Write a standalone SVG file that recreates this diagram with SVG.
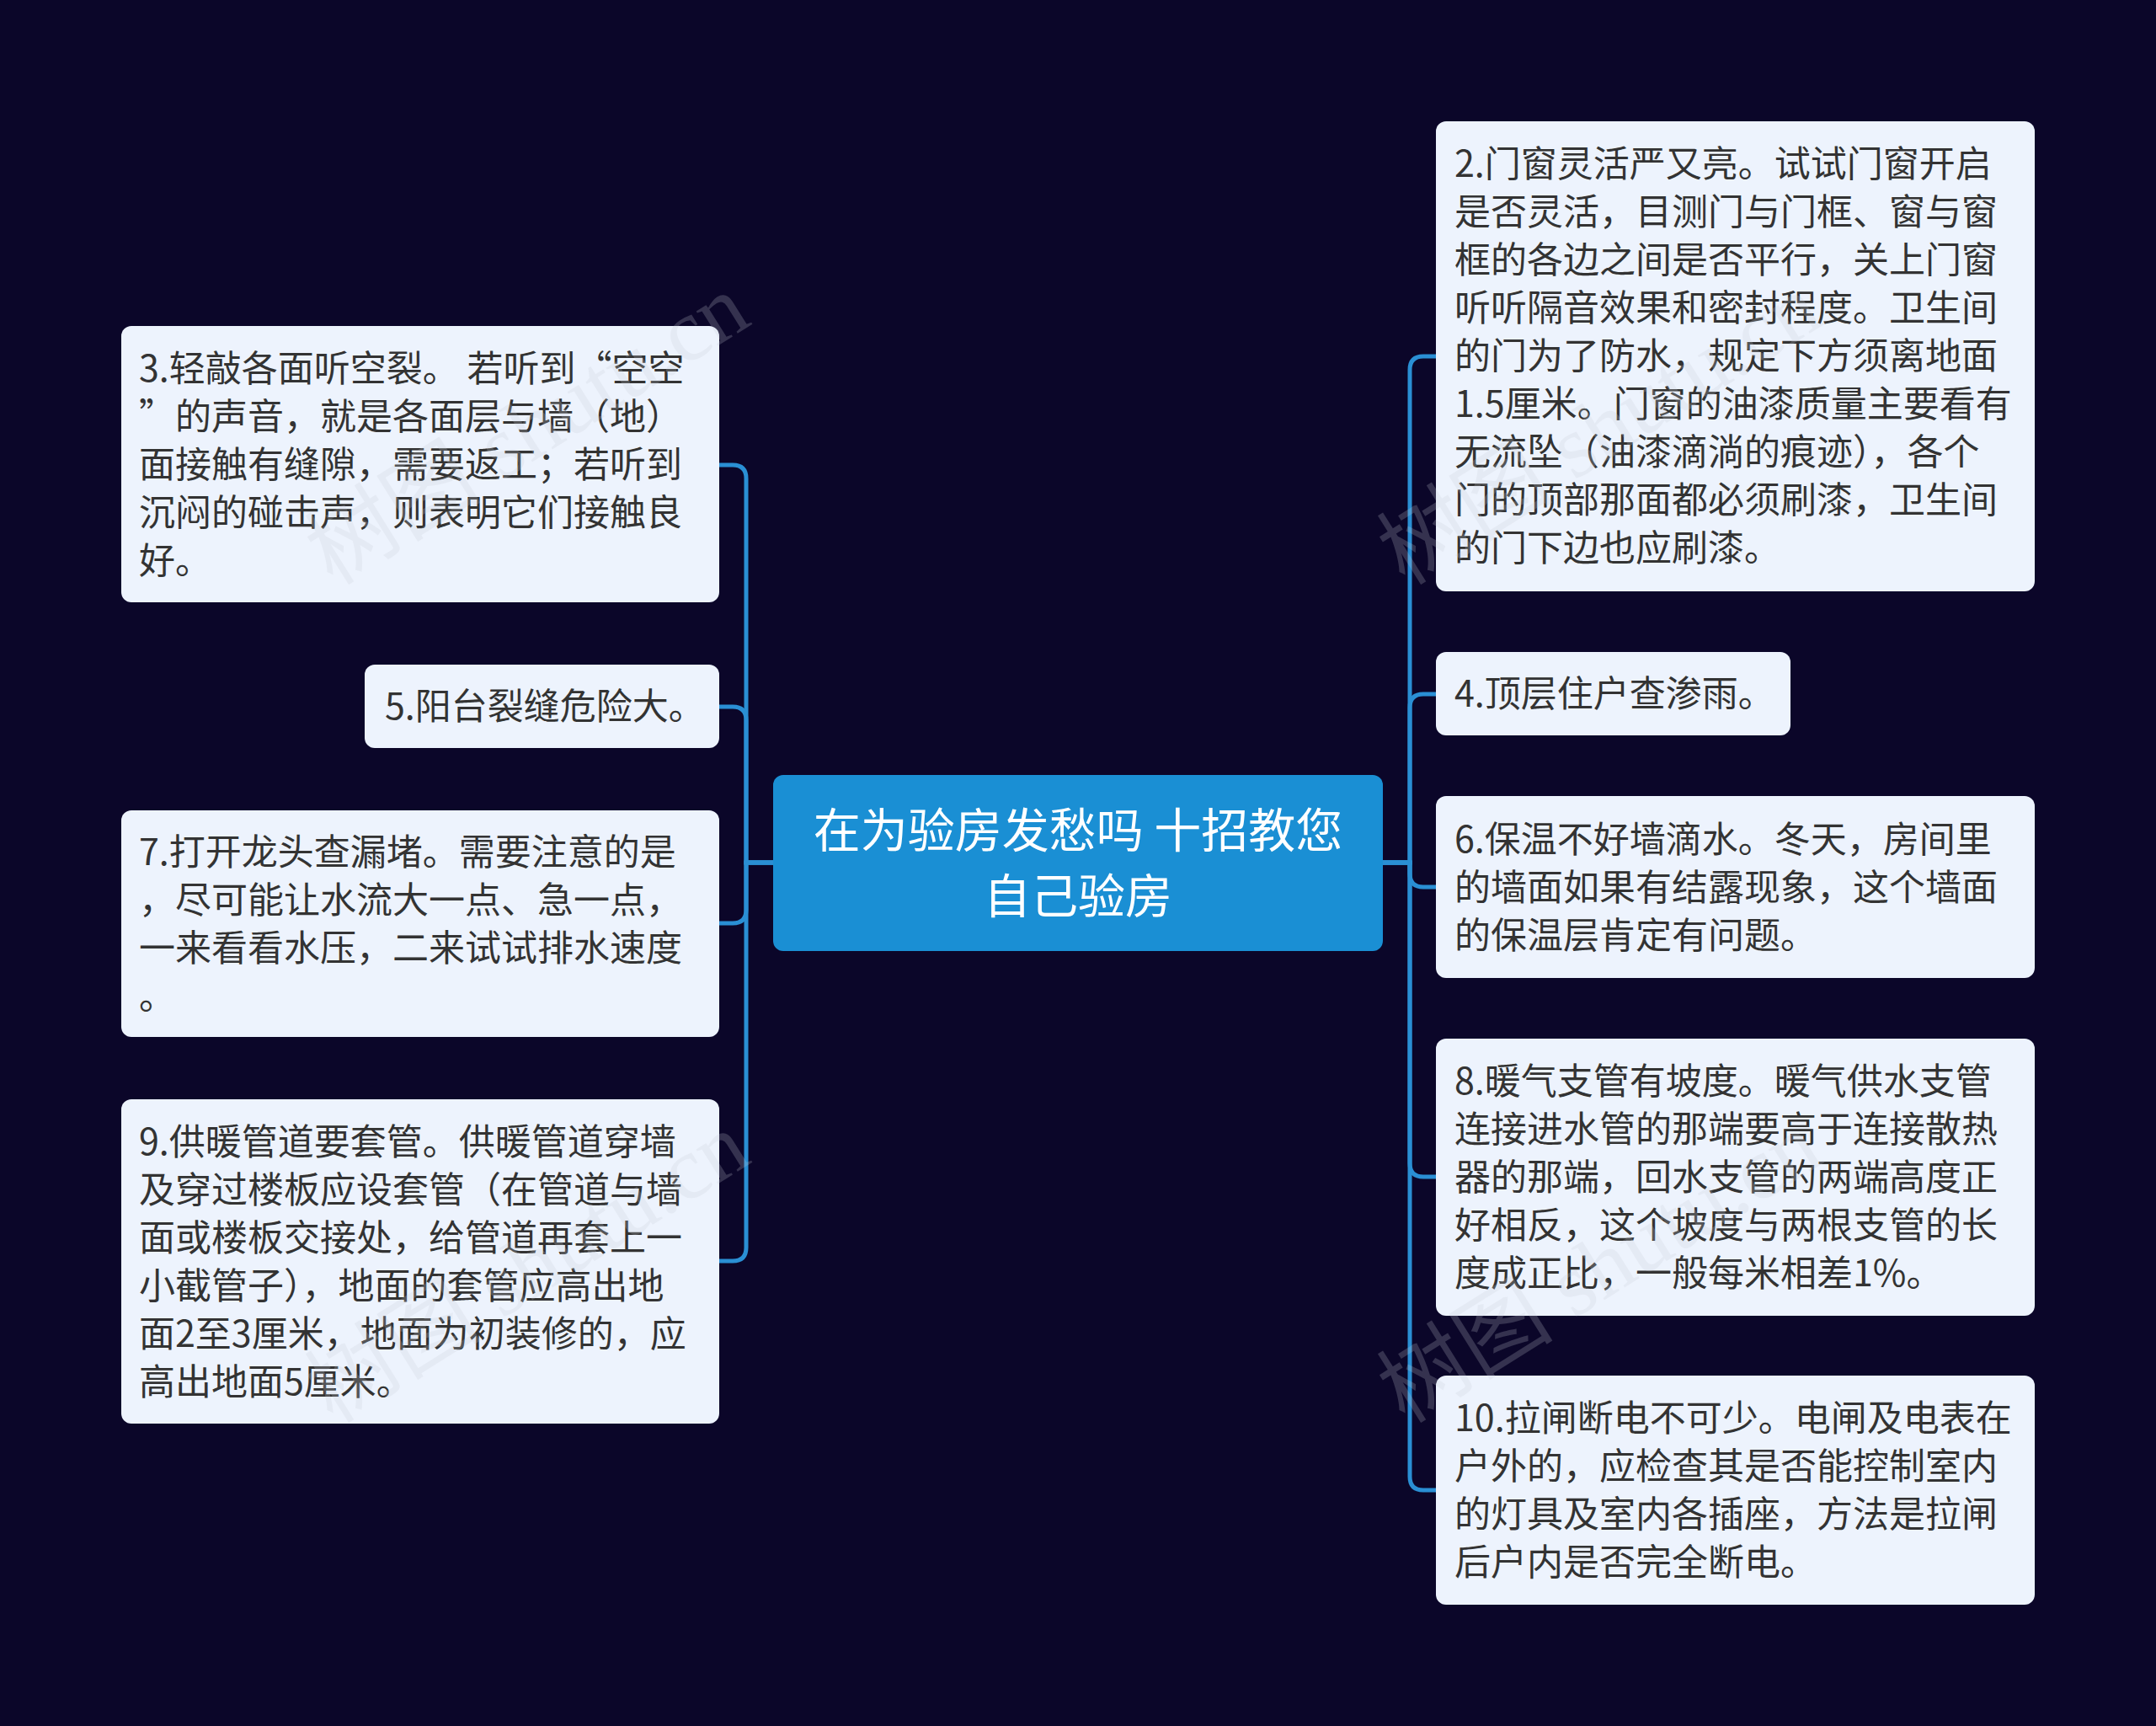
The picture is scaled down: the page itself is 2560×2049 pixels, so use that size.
<svg xmlns="http://www.w3.org/2000/svg" width="2560" height="2049" viewBox="0 0 2560 2049">
<style>
.bg{fill:#0b0629}
.box{fill:#edf3fd}
.t{font-family:"Noto Sans CJK SC","Noto Sans",sans-serif;font-size:43px;fill:#333333}
.ct{font-family:"Noto Sans CJK SC","Noto Sans",sans-serif;font-size:56px;fill:#ffffff;text-anchor:middle}
.ln{fill:none;stroke:#2a8fd4;stroke-width:5}
.wm{font-family:"Liberation Serif","Noto Sans CJK SC",serif;font-size:105px;fill:#c8ccd6;opacity:0.22}
</style>
<rect class="bg" x="0" y="0" width="2560" height="2049"/>
<g id="connectors">
<path class="ln" d="M918 1024 H886 V568 Q886 552 870 552 H854"/>
<path class="ln" d="M918 1024 H886 V855 Q886 839 870 839 H854"/>
<path class="ln" d="M918 1024 H886 V1080 Q886 1096 870 1096 H854"/>
<path class="ln" d="M918 1024 H886 V1481 Q886 1497 870 1497 H854"/>
<path class="ln" d="M1642 1024 H1674 V439 Q1674 423 1690 423 H1705"/>
<path class="ln" d="M1642 1024 H1674 V840 Q1674 824 1690 824 H1705"/>
<path class="ln" d="M1642 1024 H1674 V1037 Q1674 1053 1690 1053 H1705"/>
<path class="ln" d="M1642 1024 H1674 V1381 Q1674 1397 1690 1397 H1705"/>
<path class="ln" d="M1642 1024 H1674 V1753 Q1674 1769 1690 1769 H1705"/>
</g>
<g id="center">
<rect x="918" y="920" width="724" height="209" rx="12" fill="#1a8fd4"/>
<text class="ct" x="1280" y="1006">在为验房发愁吗 十招教您</text>
<text class="ct" x="1280" y="1084">自己验房</text>
</g>
<g id="n3">
<rect class="box" x="144" y="387" width="710" height="328" rx="12"/>
<text class="t" x="165"><tspan x="165" y="453">3.轻敲各面听空裂。 若听到“空空</tspan><tspan x="165" y="510">”的声音，就是各面层与墙（地）</tspan><tspan x="165" y="567">面接触有缝隙，需要返工；若听到</tspan><tspan x="165" y="624">沉闷的碰击声，则表明它们接触良</tspan><tspan x="165" y="681">好。</tspan></text>
</g>
<g id="n5">
<rect class="box" x="433" y="789" width="421" height="99" rx="12"/>
<text class="t" x="457" y="854">5.阳台裂缝危险大。</text>
</g>
<g id="n7">
<rect class="box" x="144" y="962" width="710" height="269" rx="12"/>
<text class="t"><tspan x="165" y="1027">7.打开龙头查漏堵。需要注意的是</tspan><tspan x="165" y="1084">，尽可能让水流大一点、急一点，</tspan><tspan x="165" y="1141">一来看看水压，二来试试排水速度</tspan><tspan x="165" y="1198">。</tspan></text>
</g>
<g id="n9">
<rect class="box" x="144" y="1305" width="710" height="385" rx="12"/>
<text class="t"><tspan x="165" y="1371">9.供暖管道要套管。供暖管道穿墙</tspan><tspan x="165" y="1428">及穿过楼板应设套管（在管道与墙</tspan><tspan x="165" y="1485">面或楼板交接处，给管道再套上一</tspan><tspan x="165" y="1542">小截管子），地面的套管应高出地</tspan><tspan x="165" y="1599">面2至3厘米，地面为初装修的，应</tspan><tspan x="165" y="1656">高出地面5厘米。</tspan></text>
</g>
<g id="n2">
<rect class="box" x="1705" y="144" width="711" height="558" rx="12"/>
<text class="t"><tspan x="1727" y="210">2.门窗灵活严又亮。试试门窗开启</tspan><tspan x="1727" y="267">是否灵活，目测门与门框、窗与窗</tspan><tspan x="1727" y="324">框的各边之间是否平行，关上门窗</tspan><tspan x="1727" y="381">听听隔音效果和密封程度。卫生间</tspan><tspan x="1727" y="438">的门为了防水，规定下方须离地面</tspan><tspan x="1727" y="495">1.5厘米。门窗的油漆质量主要看有</tspan><tspan x="1727" y="552">无流坠（油漆滴淌的痕迹），各个</tspan><tspan x="1727" y="609">门的顶部那面都必须刷漆，卫生间</tspan><tspan x="1727" y="666">的门下边也应刷漆。</tspan></text>
</g>
<g id="n4">
<rect class="box" x="1705" y="774" width="421" height="99" rx="12"/>
<text class="t" x="1727" y="839">4.顶层住户查渗雨。</text>
</g>
<g id="n6">
<rect class="box" x="1705" y="945" width="711" height="216" rx="12"/>
<text class="t"><tspan x="1727" y="1012">6.保温不好墙滴水。冬天，房间里</tspan><tspan x="1727" y="1069">的墙面如果有结露现象，这个墙面</tspan><tspan x="1727" y="1126">的保温层肯定有问题。</tspan></text>
</g>
<g id="n8">
<rect class="box" x="1705" y="1233" width="711" height="329" rx="12"/>
<text class="t"><tspan x="1727" y="1299">8.暖气支管有坡度。暖气供水支管</tspan><tspan x="1727" y="1356">连接进水管的那端要高于连接散热</tspan><tspan x="1727" y="1413">器的那端，回水支管的两端高度正</tspan><tspan x="1727" y="1470">好相反，这个坡度与两根支管的长</tspan><tspan x="1727" y="1527">度成正比，一般每米相差1%。</tspan></text>
</g>
<g id="n10">
<rect class="box" x="1705" y="1633" width="711" height="272" rx="12"/>
<text class="t"><tspan x="1727" y="1699">10.拉闸断电不可少。电闸及电表在</tspan><tspan x="1727" y="1756">户外的，应检查其是否能控制室内</tspan><tspan x="1727" y="1813">的灯具及室内各插座，方法是拉闸</tspan><tspan x="1727" y="1870">后户内是否完全断电。</tspan></text>
</g>
<g id="watermarks">
<text class="wm" text-anchor="middle" transform="translate(645 540) rotate(-32)">树图 shutu.cn</text>
<text class="wm" text-anchor="middle" transform="translate(1918 540) rotate(-32)">树图 shutu.cn</text>
<text class="wm" text-anchor="middle" transform="translate(645 1535) rotate(-32)">树图 shutu.cn</text>
<text class="wm" text-anchor="middle" transform="translate(1918 1535) rotate(-32)">树图 shutu.cn</text>
</g>
</svg>
